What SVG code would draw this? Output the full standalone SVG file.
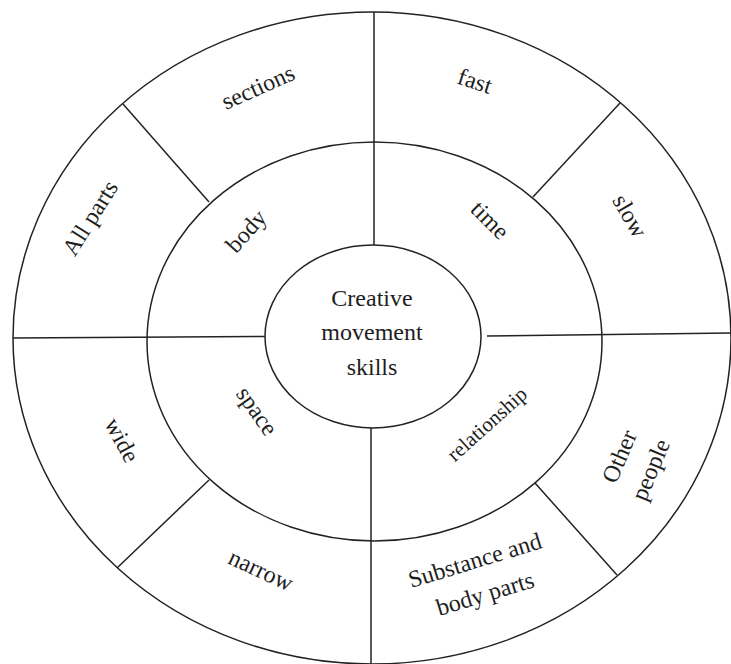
<svg xmlns="http://www.w3.org/2000/svg" width="731" height="664" viewBox="0 0 731 664">
<style>
.ring{fill:none;stroke:#222;stroke-width:1.5}
.ln{stroke:#222;stroke-width:1.5;fill:none}
text{font-size:24px;fill:#1e1e1e;text-anchor:middle}
.c{dominant-baseline:central}
</style>
<rect width="731" height="664" fill="#fff"/>
<g id="rings">
<ellipse id="outer" class="ring" cx="372" cy="338" rx="359" ry="326"/>
<ellipse id="middle" class="ring" cx="374.5" cy="341.5" rx="227.5" ry="199.5"/>
</g>
<g id="connectors">
<line class="ln" x1="374" y1="12" x2="374" y2="245"/>
<line class="ln" x1="371" y1="428" x2="371" y2="664"/>
<line class="ln" x1="13" y1="338" x2="265" y2="336.5"/>
<line class="ln" x1="487" y1="336" x2="731" y2="333"/>
<line class="ln" x1="123" y1="104" x2="209" y2="202"/>
<line class="ln" x1="620" y1="103" x2="533" y2="197"/>
<line class="ln" x1="117" y1="568" x2="209" y2="480"/>
<line class="ln" x1="617" y1="575" x2="535" y2="483"/>
</g>
<g font-family="'Liberation Serif', 'DejaVu Serif', serif">
<g id="center">
<ellipse class="ring" cx="373" cy="336.5" rx="108" ry="91.5"/>
<text x="372" y="306">Creative</text>
<text x="372" y="340">movement</text>
<text x="372" y="375">skills</text>
</g>
<g id="body"><text class="c" transform="translate(246,231) rotate(-48)">body</text></g>
<g id="time"><text class="c" transform="translate(490,220) rotate(45)">time</text></g>
<g id="space"><text class="c" transform="translate(257,411) rotate(55)">space</text></g>
<g id="relationship"><text class="c" style="font-size:21px" transform="translate(487,424) rotate(-42)">relationship</text></g>
<g id="sections"><text class="c" transform="translate(258,87) rotate(-24)">sections</text></g>
<g id="all-parts"><text class="c" transform="translate(90,218) rotate(-58)">All parts</text></g>
<g id="fast"><text class="c" transform="translate(475,81) rotate(18)">fast</text></g>
<g id="slow"><text class="c" transform="translate(630,216) rotate(60)">slow</text></g>
<g id="wide"><text class="c" transform="translate(122,440) rotate(62)">wide</text></g>
<g id="narrow"><text class="c" transform="translate(261,570) rotate(25)">narrow</text></g>
<g id="other-people"><text class="c" transform="translate(635,463) rotate(-67)"><tspan x="0" y="-17">Other</tspan><tspan x="0" y="17">people</tspan></text></g>
<g id="substance"><text class="c" transform="translate(480,577) rotate(-17)"><tspan x="0" y="-17.5">Substance and</tspan><tspan x="0" y="17.5">body parts</tspan></text></g>
</g>
</svg>
